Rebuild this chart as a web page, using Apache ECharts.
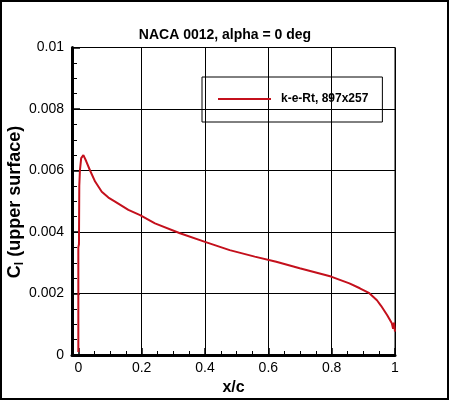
<!DOCTYPE html>
<html>
<head>
<meta charset="utf-8">
<script src="https://cdn.jsdelivr.net/npm/echarts@6/dist/echarts.min.js"></script>
<style>
  html, body { margin: 0; padding: 0; background: #fff; }
  #chart { width: 450px; height: 401px; }
</style>
</head>
<body>
<div id="chart"></div>
<script>
// upper surface skin friction
const xc = [0, 0.0, 0.002, 0.003, 0.005, 0.009, 0.016, 0.025, 0.037, 0.053, 0.074, 0.095,
  0.116, 0.158, 0.195, 0.242, 0.321, 0.40, 0.478, 0.557, 0.625, 0.699, 0.798, 0.856,
  0.889, 0.919, 0.943, 0.956, 0.975, 0.990, 0.994, 0.997, 1.0];
const cf = [0.0001, 0.0035, 0.0036, 0.0055, 0.0060, 0.0064, 0.0065, 0.0063, 0.0060, 0.00564,
  0.00531, 0.00512, 0.00499, 0.00472, 0.00455, 0.00428, 0.00396, 0.00368, 0.00341, 0.0032,
  0.00303, 0.00282, 0.00255, 0.00233, 0.00217, 0.00201, 0.00178, 0.00160, 0.0013, 0.00103,
  0.00085, 0.00105, 0.00076];

const xMajor = [0, 0.2, 0.4, 0.6, 0.8, 1];
const xGrid = [0.2, 0.4, 0.6, 0.8, 1];
const xMinor = [0.05, 0.1, 0.15, 0.25, 0.3, 0.35, 0.45, 0.5, 0.55, 0.65, 0.7, 0.75, 0.85, 0.9, 0.95];

const seriesName = 'k-e-Rt, 897x257';
const font = 'Liberation Sans, Arial, Helvetica, sans-serif';
const red = '#c4101c';

const chart = echarts.init(document.getElementById('chart'));

const points = xc.map((x, i) => [x, cf[i]]);

chart.setOption({
  animation: false,
  title: {
    text: 'NACA 0012, alpha = 0 deg',
    left: 'center',
    top: 23,
    textStyle: { fontFamily: font, fontSize: 14, fontWeight: 'bold', color: '#000' }
  },
  grid: {
    left: 72, right: 55, top: 47.5, bottom: 46,
    show: true, borderColor: '#000', borderWidth: 1
  },
  legend: {
    left: 202, top: 77,
    borderColor: '#000', borderWidth: 1,
    padding: [16, 14, 17, 15],
    itemWidth: 53, itemHeight: 14,
    itemStyle: { opacity: 0 },
    textStyle: { fontFamily: font, fontSize: 12, fontWeight: 'bold', color: '#000', padding: [0, 0, 0, 5] },
    data: [seriesName]
  },
  xAxis: [{
    type: 'value',
    min: -0.02, max: 1,
    name: 'x/c',
    nameLocation: 'middle',
    nameGap: 15,
    nameTextStyle: { fontFamily: font, fontSize: 16, fontWeight: 'bold', color: '#000' },
    axisLine: { show: true, onZero: false, lineStyle: { color: '#000', width: 3 } },
    axisTick: { show: true, inside: true, length: 7, customValues: xMajor, lineStyle: { color: '#000', width: 1.5 } },
    axisLabel: { customValues: xMajor, fontFamily: font, fontSize: 14, color: '#000', margin: 6 },
    splitLine: { show: false }
  }, {
    // minor ticks
    type: 'value',
    min: -0.02, max: 1,
    position: 'bottom',
    axisLine: { show: false },
    axisTick: { show: true, inside: true, length: 4, customValues: xMinor, lineStyle: { color: '#000', width: 1 } },
    axisLabel: { show: false },
    splitLine: { show: false }
  }, {
    // vertical grid lines
    type: 'value',
    min: -0.02, max: 1,
    position: 'bottom',
    axisLine: { show: false },
    axisTick: { show: false, customValues: xGrid },
    axisLabel: { show: false },
    splitLine: { show: true, lineStyle: { color: '#000', width: 1 } }
  }],
  yAxis: {
    type: 'value',
    min: 0, max: 0.01, interval: 0.002,
    axisLine: { show: true, onZero: false, lineStyle: { color: '#000', width: 3 } },
    axisTick: { show: true, inside: true, length: 8, lineStyle: { color: '#000', width: 1.5 } },
    minorTick: { show: true, splitNumber: 4, length: 5, lineStyle: { color: '#000', width: 1 } },
    axisLabel: { fontFamily: font, fontSize: 14, color: '#000', margin: 8 },
    splitLine: { show: true, lineStyle: { color: '#000', width: 1 } }
  },
  series: [{
    name: seriesName,
    type: 'line',
    data: points,
    symbol: 'none',
    lineStyle: { color: red, width: 2 },
    itemStyle: { color: red }
  }],
  graphic: [{
    type: 'rect',
    shape: { x: 1, y: 1, width: 447, height: 398 },
    style: { fill: null, stroke: '#000', lineWidth: 2 },
    silent: true
  }, {
    type: 'text',
    x: 15, y: 202,
    rotation: Math.PI / 2,
    style: {
      text: '{a|C}{b|l}{a| (upper surface)}',
      align: 'center',
      verticalAlign: 'middle',
      fill: '#000',
      rich: {
        a: { fontFamily: font, fontSize: 18, fontWeight: 'bold', fill: '#000', lineHeight: 22 },
        b: { fontFamily: font, fontSize: 12, fontWeight: 'bold', fill: '#000', verticalAlign: 'bottom', lineHeight: 14 }
      }
    }
  }]
});
</script>
</body>
</html>
